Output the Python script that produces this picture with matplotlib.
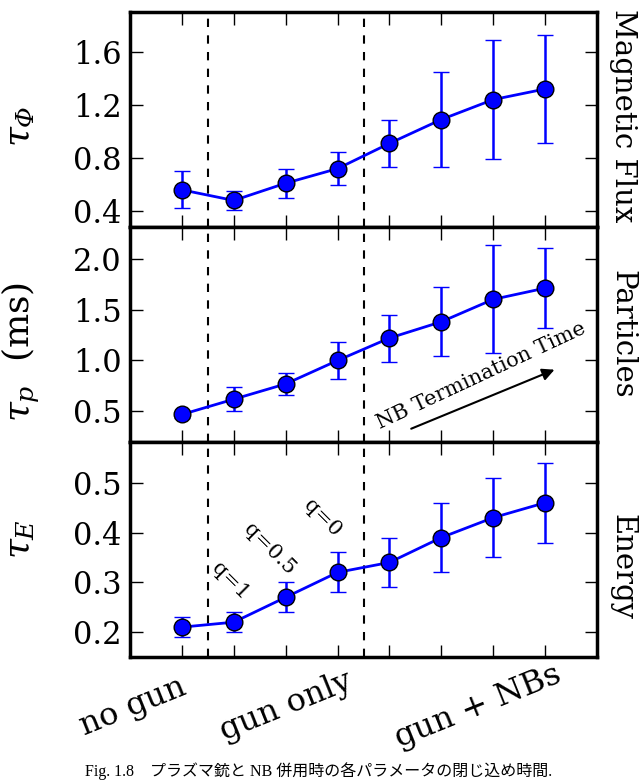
import numpy as np
import matplotlib
matplotlib.use("Agg")
import matplotlib.pyplot as plt

plt.rcParams['font.family'] = 'DejaVu Serif'
plt.rcParams['mathtext.fontset'] = 'custom'
plt.rcParams['mathtext.rm'] = 'DejaVu Serif:italic'
plt.rcParams['mathtext.it'] = 'DejaVu Serif:italic'

################################################################################
# Data

x = np.arange(8)

tau_phi = [0.56, 0.48, 0.61, 0.72, 0.91, 1.09, 1.24, 1.32]
tau_phi_err = [0.14, 0.07, 0.11, 0.125, 0.18, 0.36, 0.45, 0.41]

tau_p = [0.47, 0.62, 0.77, 1.00, 1.22, 1.38, 1.60, 1.71]
tau_p_err = [0.03, 0.12, 0.11, 0.18, 0.23, 0.34, 0.53, 0.39]

tau_e = [0.21, 0.22, 0.27, 0.32, 0.34, 0.39, 0.43, 0.46]
tau_e_err = [0.02, 0.02, 0.03, 0.04, 0.05, 0.07, 0.08, 0.08]

ylabels = [r'$\tau_\Phi$', r'$\tau_p$  (ms)', r'$\tau_E$']
rlabels = ['Magnetic Flux', 'Particles', 'Energy']
yticks = [[0.4, 0.8, 1.2, 1.6], [0.5, 1.0, 1.5, 2.0], [0.2, 0.3, 0.4, 0.5]]
ylims = [(0.28, 1.9), (0.2, 2.31), (0.15, 0.582)]

categories = ['no gun', 'gun only', 'gun + NBs']
cat_pos = [-0.95, 2.0, 5.7]
q_labels = ['q=1', 'q=0.5', 'q=0']
q_pos = [(0.94, 0.302), (1.68, 0.366), (2.70, 0.43)]
dividers = [0.5, 3.5]

caption = 'Fig. 1.8\u3000プラズマ銃と NB 併用時の各パラメータの閉じ込め時間.'

################################################################################
# Plot

fig = plt.figure(figsize=(6.44, 7.83), dpi=100)

left, width, height = 130 / 644, 467 / 644, 215 / 783
bottoms = [1 - 227 / 783, 1 - 442 / 783, 1 - 657 / 783]
ylab_y = [0.47, 0.42, 0.55]
rlab_y = [0.52, 0.5, 0.42]

series = [(tau_phi, tau_phi_err), (tau_p, tau_p_err), (tau_e, tau_e_err)]
axes = []
for i, (vals, errs) in enumerate(series):
    ax = fig.add_axes([left, bottoms[i], width, height])
    axes.append(ax)
    ax.errorbar(x, vals, yerr=errs, color='blue', lw=2, elinewidth=1.8,
                capsize=6, capthick=1.5, marker='o', ms=12, mfc='blue',
                mec='black', mew=1, zorder=3)
    for d in dividers:
        ax.axvline(d, color='black', ls='--', lw=1.5, dashes=(4, 4))
    ax.set_xlim(-1, 8)
    ax.set_ylim(*ylims[i])
    ax.set_xticks(x)
    ax.set_xticklabels([])
    ax.set_yticks(yticks[i])
    ax.set_yticklabels(['%.1f' % t for t in yticks[i]])
    ax.tick_params(direction='in', length=9, width=1, top=True, right=True,
                   labelsize=22, pad=6)
    for s in ax.spines.values():
        s.set_linewidth(2.5)
    ax.text(-0.235, ylab_y[i], ylabels[i], transform=ax.transAxes, rotation=90,
            ha='center', va='center', fontsize=26)
    ax.text(1.055, rlab_y[i], rlabels[i], transform=ax.transAxes, rotation=-90,
            ha='center', va='center', fontsize=21)

# Annotation in the particle panel
ax = axes[1]
ax.annotate('', xy=(7.23, 0.92), xytext=(4.37, 0.32),
            arrowprops=dict(arrowstyle='-|>', color='black', lw=1.5,
                            mutation_scale=18))
ax.text(5.76, 0.85, 'NB Termination Time', rotation=25, ha='center',
        va='center', fontsize=15)

# Safety factor labels in the energy panel
ax = axes[2]
for lab, (qx, qy) in zip(q_labels, q_pos):
    ax.text(qx, qy, lab, rotation=-45, ha='center', va='center', fontsize=15)

# Category labels below the bottom panel
for lab, cx in zip(categories, cat_pos):
    ax.text(cx, -0.23, lab, transform=ax.get_xaxis_transform(), rotation=22,
            ha='center', va='center', fontsize=23)

fig.text(0.495, 1 - 771 / 783, caption, ha='center', va='center',
         fontsize=11.5, family=['Liberation Serif', 'Noto Sans CJK JP'])

plt.savefig('out.png', dpi=100)
